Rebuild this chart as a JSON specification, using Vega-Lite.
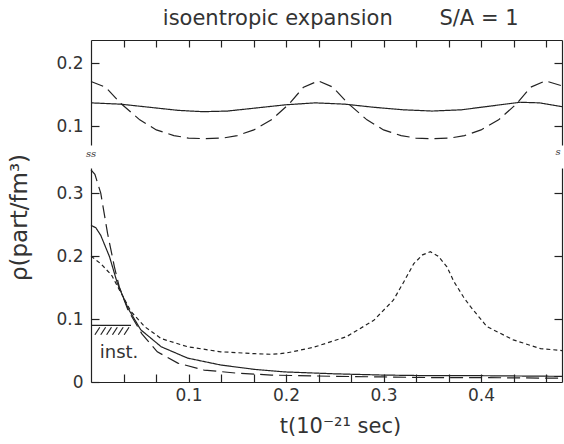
{
  "$schema": "https://vega.github.io/schema/vega-lite/v6.json",
  "background": "white",
  "padding": {"left": 8, "top": 8, "right": 2, "bottom": 2},
  "title": {"text": "isoentropic expansion\u00a0\u00a0\u00a0\u00a0\u00a0\u00a0\u00a0S/A = 1", "font": "DejaVu Sans", "fontSize": 21, "fontWeight": "normal", "color": "#333", "anchor": "middle", "offset": 10, "dx": 54},
  "spacing": 23,
  "bounds": "flush",
  "config": {
    "view": {"stroke": null},
    "axis": {"grid": false, "domainColor": "#222", "tickColor": "#222", "labelColor": "#333", "titleColor": "#333", "labelFont": "DejaVu Sans", "titleFont": "DejaVu Sans", "labelFontSize": 17, "titleFontWeight": "normal", "tickSize": -8, "domainWidth": 1.2, "tickWidth": 1.2}
  },
  "datasets": {
    "top": [
      {"t": 0, "rho": 0.137, "curve": "solid"},
      {"t": 0.03, "rho": 0.135, "curve": "solid"},
      {"t": 0.06, "rho": 0.130, "curve": "solid"},
      {"t": 0.09, "rho": 0.125, "curve": "solid"},
      {"t": 0.115, "rho": 0.123, "curve": "solid"},
      {"t": 0.14, "rho": 0.124, "curve": "solid"},
      {"t": 0.17, "rho": 0.129, "curve": "solid"},
      {"t": 0.2, "rho": 0.134, "curve": "solid"},
      {"t": 0.23, "rho": 0.137, "curve": "solid"},
      {"t": 0.26, "rho": 0.135, "curve": "solid"},
      {"t": 0.29, "rho": 0.130, "curve": "solid"},
      {"t": 0.32, "rho": 0.126, "curve": "solid"},
      {"t": 0.35, "rho": 0.124, "curve": "solid"},
      {"t": 0.38, "rho": 0.126, "curve": "solid"},
      {"t": 0.41, "rho": 0.132, "curve": "solid"},
      {"t": 0.44, "rho": 0.138, "curve": "solid"},
      {"t": 0.46, "rho": 0.137, "curve": "solid"},
      {"t": 0.483, "rho": 0.131, "curve": "solid"},
      {"t": 0, "rho": 0.171, "curve": "longdash"},
      {"t": 0.015, "rho": 0.162, "curve": "longdash"},
      {"t": 0.03, "rho": 0.137, "curve": "longdash"},
      {"t": 0.05, "rho": 0.110, "curve": "longdash"},
      {"t": 0.067, "rho": 0.094, "curve": "longdash"},
      {"t": 0.085, "rho": 0.085, "curve": "longdash"},
      {"t": 0.1, "rho": 0.081, "curve": "longdash"},
      {"t": 0.117, "rho": 0.080, "curve": "longdash"},
      {"t": 0.135, "rho": 0.081, "curve": "longdash"},
      {"t": 0.15, "rho": 0.085, "curve": "longdash"},
      {"t": 0.167, "rho": 0.094, "curve": "longdash"},
      {"t": 0.185, "rho": 0.110, "curve": "longdash"},
      {"t": 0.203, "rho": 0.135, "curve": "longdash"},
      {"t": 0.218, "rho": 0.162, "curve": "longdash"},
      {"t": 0.233, "rho": 0.172, "curve": "longdash"},
      {"t": 0.248, "rho": 0.162, "curve": "longdash"},
      {"t": 0.263, "rho": 0.137, "curve": "longdash"},
      {"t": 0.283, "rho": 0.110, "curve": "longdash"},
      {"t": 0.3, "rho": 0.094, "curve": "longdash"},
      {"t": 0.318, "rho": 0.085, "curve": "longdash"},
      {"t": 0.333, "rho": 0.081, "curve": "longdash"},
      {"t": 0.35, "rho": 0.080, "curve": "longdash"},
      {"t": 0.368, "rho": 0.081, "curve": "longdash"},
      {"t": 0.383, "rho": 0.085, "curve": "longdash"},
      {"t": 0.4, "rho": 0.094, "curve": "longdash"},
      {"t": 0.418, "rho": 0.110, "curve": "longdash"},
      {"t": 0.436, "rho": 0.135, "curve": "longdash"},
      {"t": 0.451, "rho": 0.162, "curve": "longdash"},
      {"t": 0.466, "rho": 0.172, "curve": "longdash"},
      {"t": 0.483, "rho": 0.164, "curve": "longdash"}
    ],
    "bottom": [
      {"t": 0, "rho": 0.337, "curve": "longdash"},
      {"t": 0.004, "rho": 0.330, "curve": "longdash"},
      {"t": 0.010, "rho": 0.300, "curve": "longdash"},
      {"t": 0.017, "rho": 0.236, "curve": "longdash"},
      {"t": 0.024, "rho": 0.183, "curve": "longdash"},
      {"t": 0.029, "rho": 0.151, "curve": "longdash"},
      {"t": 0.038, "rho": 0.114, "curve": "longdash"},
      {"t": 0.052, "rho": 0.077, "curve": "longdash"},
      {"t": 0.068, "rho": 0.048, "curve": "longdash"},
      {"t": 0.089, "rho": 0.030, "curve": "longdash"},
      {"t": 0.116, "rho": 0.019, "curve": "longdash"},
      {"t": 0.150, "rho": 0.014, "curve": "longdash"},
      {"t": 0.185, "rho": 0.011, "curve": "longdash"},
      {"t": 0.25, "rho": 0.009, "curve": "longdash"},
      {"t": 0.3, "rho": 0.008, "curve": "longdash"},
      {"t": 0.35, "rho": 0.007, "curve": "longdash"},
      {"t": 0.4, "rho": 0.007, "curve": "longdash"},
      {"t": 0.483, "rho": 0.006, "curve": "longdash"},
      {"t": 0, "rho": 0.249, "curve": "solid"},
      {"t": 0.005, "rho": 0.245, "curve": "solid"},
      {"t": 0.010, "rho": 0.233, "curve": "solid"},
      {"t": 0.019, "rho": 0.199, "curve": "solid"},
      {"t": 0.027, "rho": 0.157, "curve": "solid"},
      {"t": 0.038, "rho": 0.117, "curve": "solid"},
      {"t": 0.051, "rho": 0.083, "curve": "solid"},
      {"t": 0.072, "rho": 0.056, "curve": "solid"},
      {"t": 0.099, "rho": 0.038, "curve": "solid"},
      {"t": 0.133, "rho": 0.027, "curve": "solid"},
      {"t": 0.168, "rho": 0.020, "curve": "solid"},
      {"t": 0.199, "rho": 0.016, "curve": "solid"},
      {"t": 0.25, "rho": 0.013, "curve": "solid"},
      {"t": 0.3, "rho": 0.011, "curve": "solid"},
      {"t": 0.35, "rho": 0.010, "curve": "solid"},
      {"t": 0.4, "rho": 0.010, "curve": "solid"},
      {"t": 0.483, "rho": 0.009, "curve": "solid"},
      {"t": 0, "rho": 0.200, "curve": "shortdash"},
      {"t": 0.010, "rho": 0.188, "curve": "shortdash"},
      {"t": 0.021, "rho": 0.170, "curve": "shortdash"},
      {"t": 0.031, "rho": 0.141, "curve": "shortdash"},
      {"t": 0.041, "rho": 0.112, "curve": "shortdash"},
      {"t": 0.055, "rho": 0.088, "curve": "shortdash"},
      {"t": 0.072, "rho": 0.069, "curve": "shortdash"},
      {"t": 0.099, "rho": 0.056, "curve": "shortdash"},
      {"t": 0.133, "rho": 0.048, "curve": "shortdash"},
      {"t": 0.168, "rho": 0.045, "curve": "shortdash"},
      {"t": 0.185, "rho": 0.044, "curve": "shortdash"},
      {"t": 0.2, "rho": 0.046, "curve": "shortdash"},
      {"t": 0.228, "rho": 0.055, "curve": "shortdash"},
      {"t": 0.262, "rho": 0.072, "curve": "shortdash"},
      {"t": 0.290, "rho": 0.098, "curve": "shortdash"},
      {"t": 0.310, "rho": 0.130, "curve": "shortdash"},
      {"t": 0.320, "rho": 0.157, "curve": "shortdash"},
      {"t": 0.331, "rho": 0.188, "curve": "shortdash"},
      {"t": 0.340, "rho": 0.202, "curve": "shortdash"},
      {"t": 0.348, "rho": 0.207, "curve": "shortdash"},
      {"t": 0.356, "rho": 0.200, "curve": "shortdash"},
      {"t": 0.365, "rho": 0.183, "curve": "shortdash"},
      {"t": 0.372, "rho": 0.160, "curve": "shortdash"},
      {"t": 0.382, "rho": 0.135, "curve": "shortdash"},
      {"t": 0.389, "rho": 0.120, "curve": "shortdash"},
      {"t": 0.406, "rho": 0.088, "curve": "shortdash"},
      {"t": 0.433, "rho": 0.067, "curve": "shortdash"},
      {"t": 0.461, "rho": 0.053, "curve": "shortdash"},
      {"t": 0.483, "rho": 0.050, "curve": "shortdash"}
    ],
    "inst": [
      {"t": 0, "t2": 0.041, "rho": 0.090, "rho2": 0.090},
      {"t": 0.004, "t2": 0.009, "rho": 0.075, "rho2": 0.087},
      {"t": 0.010, "t2": 0.015, "rho": 0.075, "rho2": 0.087},
      {"t": 0.016, "t2": 0.021, "rho": 0.075, "rho2": 0.087},
      {"t": 0.022, "t2": 0.027, "rho": 0.075, "rho2": 0.087},
      {"t": 0.028, "t2": 0.033, "rho": 0.075, "rho2": 0.087},
      {"t": 0.034, "t2": 0.039, "rho": 0.075, "rho2": 0.087}
    ],
    "instlabel": [
      {"t": 0.009, "rho": 0.046, "label": "inst."}
    ],
    "breaks": [
      {"t": 0, "rho": 0.362, "label": "ss"},
      {"t": 0.479, "rho": 0.365, "label": "s"}
    ]
  },
  "vconcat": [
    {
      "width": 471,
      "height": 105,
      "data": {"name": "top"},
      "layer": [
        {
          "mark": {"type": "line", "color": "#222", "strokeWidth": 1.2},
          "encoding": {
            "x": {"field": "t", "type": "quantitative", "scale": {"domain": [0, 0.483], "nice": false, "zero": false},
                  "axis": {"orient": "top", "values": [0.033333, 0.066667, 0.1, 0.133333, 0.166667, 0.2, 0.233333, 0.266667, 0.3, 0.333333, 0.366667, 0.4, 0.433333, 0.466667], "labels": false, "title": null, "tickSize": -7}},
            "y": {"field": "rho", "type": "quantitative", "scale": {"domain": [0.07, 0.237], "nice": false, "zero": false},
                  "axis": {"orient": "left", "values": [0.1, 0.2], "format": ".1f", "title": null, "labelPadding": 16}},
            "strokeDash": {"field": "curve", "type": "nominal", "scale": {"domain": ["solid", "longdash", "shortdash"], "range": [[1, 0], [13, 6], [4, 3]]}, "legend": null}
          }
        },
        {
          "mark": {"type": "line", "opacity": 0},
          "encoding": {
            "x": {"field": "t", "type": "quantitative", "axis": null},
            "y": {"field": "rho", "type": "quantitative", "axis": {"orient": "right", "values": [0.1, 0.2], "labels": false, "title": null}}
          }
        }
      ],
      "resolve": {"axis": {"x": "independent", "y": "independent"}}
    },
    {
      "width": 471,
      "height": 214,
      "layer": [
        {
          "data": {"name": "bottom"},
          "mark": {"type": "line", "color": "#222", "strokeWidth": 1.2},
          "encoding": {
            "x": {"field": "t", "type": "quantitative", "scale": {"domain": [0, 0.483], "nice": false, "zero": false},
                  "axis": {"orient": "bottom", "values": [0.033333, 0.066667, 0.1, 0.133333, 0.166667, 0.2, 0.233333, 0.266667, 0.3, 0.333333, 0.366667, 0.4, 0.433333, 0.466667],
                           "labelExpr": "abs(datum.value*10 - round(datum.value*10)) < 0.001 ? format(datum.value, '.1f') : ''",
                           "labelPadding": 13, "title": "t(10⁻²¹ sec)", "titleFontSize": 21, "titlePadding": 12, "titleX": 249}},
            "y": {"field": "rho", "type": "quantitative", "scale": {"domain": [0, 0.34], "nice": false, "zero": false},
                  "axis": {"orient": "left", "values": [0, 0.1, 0.2, 0.3], "labelExpr": "datum.value == 0 ? '0' : format(datum.value, '.1f')", "labelPadding": 16,
                           "title": "ρ(part/fm³)", "titleFontSize": 23, "titlePadding": 24, "titleY": 49}},
            "strokeDash": {"field": "curve", "type": "nominal", "scale": {"domain": ["solid", "longdash", "shortdash"], "range": [[1, 0], [13, 6], [4, 3]]}, "legend": null}
          }
        },
        {
          "data": {"name": "bottom"},
          "mark": {"type": "line", "opacity": 0},
          "encoding": {
            "x": {"field": "t", "type": "quantitative", "axis": null},
            "y": {"field": "rho", "type": "quantitative", "axis": {"orient": "right", "values": [0.1, 0.2, 0.3], "labels": false, "title": null}}
          }
        },
        {
          "data": {"name": "inst"},
          "mark": {"type": "rule", "color": "#222", "strokeWidth": 1.2},
          "encoding": {
            "x": {"field": "t", "type": "quantitative", "axis": null},
            "x2": {"field": "t2"},
            "y": {"field": "rho", "type": "quantitative", "axis": null},
            "y2": {"field": "rho2"}
          }
        },
        {
          "data": {"name": "instlabel"},
          "mark": {"type": "text", "font": "DejaVu Sans", "fontSize": 18, "color": "#333", "align": "left", "baseline": "middle"},
          "encoding": {
            "x": {"field": "t", "type": "quantitative", "axis": null},
            "y": {"field": "rho", "type": "quantitative", "axis": null},
            "text": {"field": "label"}
          }
        },
        {
          "data": {"name": "breaks"},
          "mark": {"type": "text", "font": "DejaVu Serif", "fontStyle": "italic", "fontSize": 10, "color": "#333", "align": "center", "baseline": "middle"},
          "encoding": {
            "x": {"field": "t", "type": "quantitative", "axis": null},
            "y": {"field": "rho", "type": "quantitative", "axis": null},
            "text": {"field": "label"}
          }
        }
      ],
      "resolve": {"axis": {"x": "independent", "y": "independent"}}
    }
  ]
}
